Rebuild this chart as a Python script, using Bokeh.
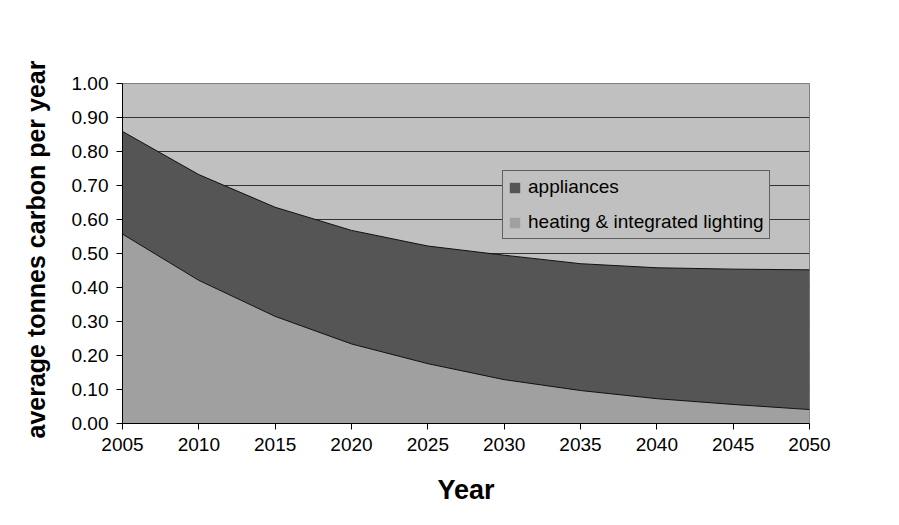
from bokeh.plotting import figure
from bokeh.models import (ColumnDataSource, FixedTicker, NumeralTickFormatter, Legend,
                          LegendItem, Range1d, Title)
from bokeh.embed import file_html
from bokeh.resources import INLINE

years = [2005, 2010, 2015, 2020, 2025, 2030, 2035, 2040, 2045, 2050]
heating = [0.557, 0.421, 0.315, 0.234, 0.176, 0.129, 0.097, 0.073, 0.056, 0.041]
appliances = [0.302, 0.311, 0.321, 0.334, 0.346, 0.366, 0.373, 0.385, 0.398, 0.411]
y_ticks = [0.0, 0.1, 0.2, 0.3, 0.4, 0.5, 0.6, 0.7, 0.8, 0.9, 1.0]
x_ticks = years

FONT = "Liberation Sans"

src = ColumnDataSource(dict(year=years, heating=heating, appliances=appliances))

p = figure(width=899, height=525, output_backend="svg", toolbar_location=None,
           x_range=Range1d(2005, 2050), y_range=Range1d(0, 1.0),
           min_border_left=122, min_border_right=90, min_border_top=83, min_border_bottom=102,
           background_fill_color="#C0C0C0", border_fill_color="white",
           outline_line_color="#808080", outline_line_width=1)

areas = p.varea_stack(["heating", "appliances"], x="year", source=src,
                      color=["#A0A0A0", "#555555"])
p.vline_stack(["heating", "appliances"], x="year", source=src, color="#111111", line_width=1)

# outer chart frame (a borderless-content box whose top and left edges fall in the window)
ghost = p.scatter(x=[], y=[], fill_alpha=0, line_alpha=0)
frame_box = Legend(items=[LegendItem(label=" ", renderers=[ghost])],
                   location=(-114, -185), padding=0, margin=0, spacing=0,
                   glyph_width=1, glyph_height=1, label_standoff=0,
                   label_width=1000, label_height=600,
                   background_fill_alpha=0, border_line_color="#333333", border_line_width=2)
p.add_layout(frame_box, "center")

legend = Legend(items=[LegendItem(label="appliances", renderers=[areas[1]]),
                       LegendItem(label="heating & integrated lighting", renderers=[areas[0]])],
                location=(380, 184), background_fill_color="#C0C0C0", background_fill_alpha=1,
                border_line_color="black", border_line_width=1,
                label_text_font=FONT, label_text_font_size="19px", label_text_color="black",
                glyph_width=13, glyph_height=13, label_standoff=7, padding=5, spacing=13,
                label_height=20, margin=0)
p.add_layout(legend, "center")

p.xaxis.ticker = FixedTicker(ticks=x_ticks)
p.yaxis.ticker = FixedTicker(ticks=y_ticks)
p.yaxis.formatter = NumeralTickFormatter(format="0.00")
for ax in (p.xaxis, p.yaxis):
    ax.major_label_text_font = FONT
    ax.major_label_text_font_size = "19px"
    ax.major_label_text_color = "black"
    ax.axis_line_color = "black"
    ax.major_tick_line_color = "black"
    ax.major_tick_in = 0
    ax.major_tick_out = 6
    ax.minor_tick_line_color = None
    ax.major_label_standoff = 8

p.xaxis.axis_label = "Year"
p.xaxis.axis_label_text_font = FONT
p.xaxis.axis_label_text_font_style = "bold"
p.xaxis.axis_label_text_color = "black"
p.xaxis.axis_label_text_font_size = "27px"
p.xaxis.axis_label_standoff = 21

ytitle = Title(text="average tonnes carbon per year", align="left", offset=-15,
               text_font=FONT, text_font_style="bold", text_font_size="25px",
               text_color="black", standoff=38)
p.add_layout(ytitle, "left")

p.xgrid.grid_line_color = None
p.ygrid.grid_line_color = "#333333"
p.ygrid.grid_line_width = 1
p.ygrid.bounds = (0, 0.95)

open("out.html", "w").write(file_html(p, INLINE))
